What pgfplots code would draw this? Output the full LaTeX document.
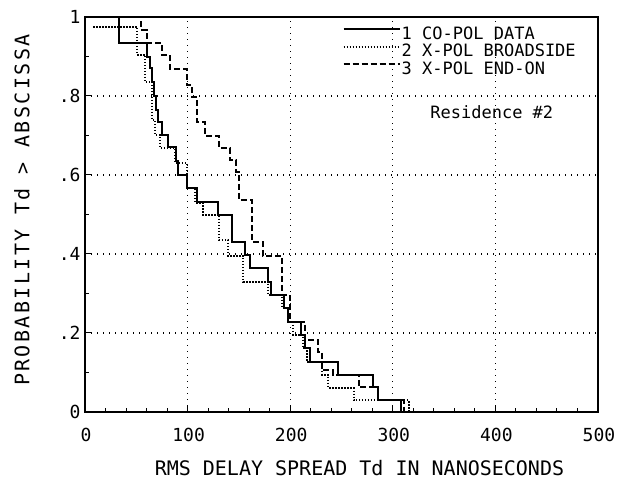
\documentclass[border=0pt]{standalone}
\usepackage{fontspec}
\setmonofont{DejaVu Sans Mono}
\usepackage{pgfplots}
\pgfplotsset{compat=1.18}
\begin{document}
\begin{tikzpicture}
\begin{axis}[
  name=ax,
  scale only axis,
  width=513pt, height=395pt,
  xmin=0, xmax=500, ymin=0, ymax=1,
  xtick={0,100,200,300,400,500},
  xticklabels={0,100,200,300,400,500},
  ytick={0,0.2,0.4,0.6,0.8,1},
  yticklabels={0,.2,.4,.6,.8,1},
  minor xtick={20,40,60,80,120,140,160,180,220,240,260,280,320,340,360,380,420,440,460,480},
  minor ytick={0.1,0.3,0.5,0.7,0.9},
  tick align=inside,
  xtick pos=bottom, ytick pos=left,
  major tick length=6pt, minor tick length=4pt,
  every tick/.style={black, line width=1pt},
  axis line style={line width=1.6pt},
  grid=major,
  major grid style={black, line width=1.2pt, dash pattern=on 1.2pt off 4.8pt},
  tick label style={font=\fontsize{18}{18}\selectfont\ttfamily},
  xticklabel style={yshift=-13pt, xshift=1pt},
  yticklabel style={xshift=-1pt},
  xlabel={RMS DELAY SPREAD Td IN NANOSECONDS},
  ylabel={PROBABILITY Td > ABSCISSA},
  xlabel style={at={(axis description cs:0.535,-0.1418)}, anchor=center, font=\fontsize{20}{20}\selectfont\ttfamily},
  ylabel style={at={(axis description cs:-0.1228,0.511)}, anchor=center, font=\fontsize{20}{20}\selectfont\ttfamily\addfontfeature{LetterSpace=12}},
  legend style={draw=none, fill=none, at={(axis cs:251,0.977)}, anchor=north west, inner sep=0pt,
    row sep=3.5pt, font=\fontsize{17}{17}\selectfont\ttfamily,
    nodes={inner sep=1pt, text height=12pt, text depth=0pt},
    /tikz/every even column/.append style={column sep=2pt}},
  legend image code/.code={\draw[#1] (0pt,4pt) -- (56pt,4pt);},
  legend cell align=left,
  clip=false,
]
\addplot[const plot, black, line width=2pt] coordinates {
(10,1) (33.2,0.934) (60.5,0.899) (63.5,0.870) (65.5,0.835) (67.5,0.800)
(69.0,0.765) (71.3,0.734) (75.2,0.701) (81.0,0.671) (89.0,0.635) (90.5,0.600)
(99.6,0.567) (109.4,0.532) (130.0,0.499) (143.6,0.430) (156.0,0.397)
(161.0,0.365) (178.7,0.329) (181.6,0.296) (194.3,0.263) (198.0,0.228)
(211.0,0.195) (214.0,0.162) (219.7,0.127) (247.0,0.094) (281.0,0.063)
(286.0,0.030) (307.6,0)
};
\addlegendentry{1 CO-POL DATA}
\addplot[const plot, black, line width=2pt, dash pattern=on 1.5pt off 1.5pt] coordinates {
(8,0.975) (50.8,0.904) (58.6,0.835) (65.4,0.739) (68.4,0.701) (73.2,0.668)
(87.9,0.630) (99.6,0.567) (107.4,0.529) (115.0,0.499) (130.9,0.435)
(139.6,0.395) (154.3,0.329) (178.7,0.296) (192.4,0.263) (198.2,0.228)
(203.0,0.195) (212.0,0.162) (216.0,0.127) (231.4,0.094) (237.3,0.061)
(261.7,0.030) (315.4,0)
};
\addlegendentry{2 X-POL BROADSIDE}
\addplot[const plot, black, line width=2pt, dash pattern=on 6pt off 3pt] coordinates {
(50,1) (54.7,0.967) (60.5,0.934) (75.2,0.904) (83.0,0.868) (99.6,0.828)
(104.5,0.797) (109.4,0.734) (117.2,0.699) (130.9,0.668) (141.6,0.638)
(147.5,0.608) (150.4,0.537) (163.0,0.430) (173.8,0.395) (192.4,0.296)
(200.0,0.228) (214.8,0.182) (227.5,0.152) (231.4,0.106) (242.0,0.094)
(266.6,0.063) (286.0,0.030) (310.5,0)
};
\addlegendentry{3 X-POL END-ON}
\node[font=\fontsize{17}{17}\selectfont\ttfamily] at (axis cs:396.5,0.759) {Residence \#2};
\end{axis}
\pgfresetboundingbox
\path ([xshift=-85pt,yshift=-77pt]ax.south west) rectangle ([xshift=30pt,yshift=17pt]ax.north east);
\end{tikzpicture}
\end{document}
